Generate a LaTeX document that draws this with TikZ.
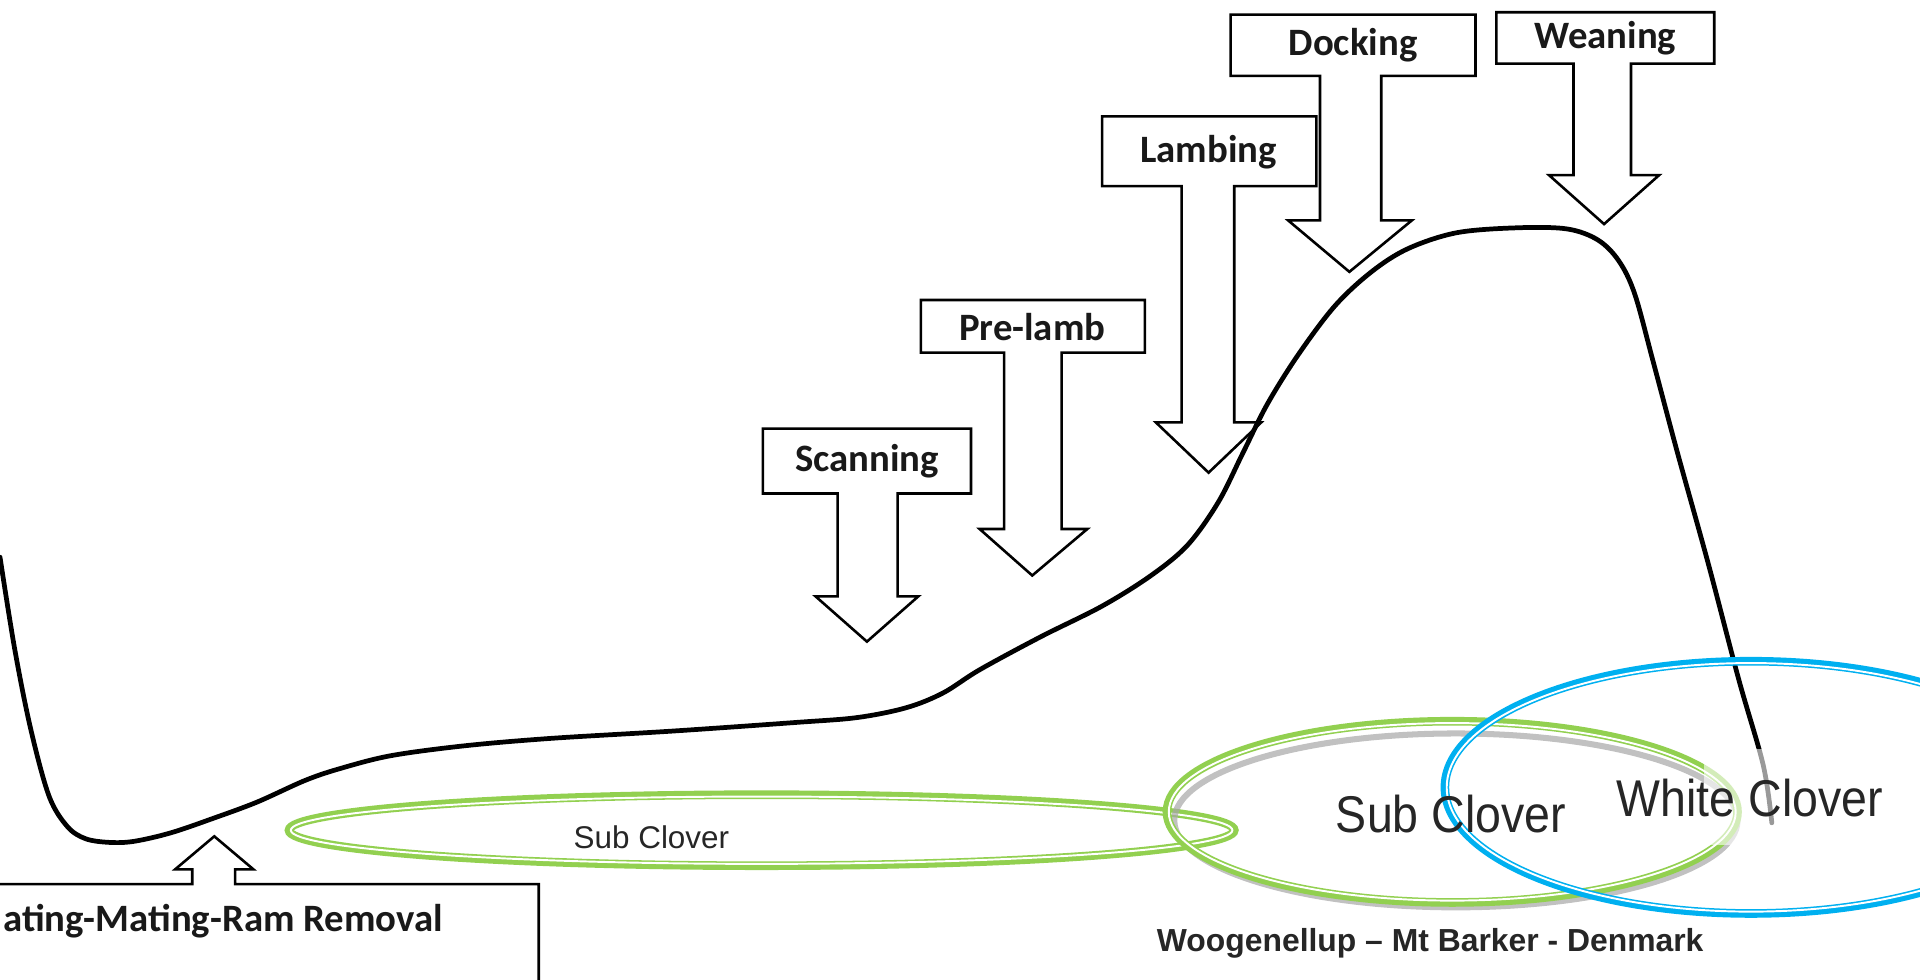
\documentclass[tikz,border=0pt]{standalone}
\usepackage{fontspec}
\setmainfont{Liberation Sans}
\newfontfamily\boxfont{Carlito}
\usetikzlibrary{calc}
\definecolor{clovergreen}{HTML}{92D050}
\definecolor{cloverblue}{HTML}{00B0F0}

\begin{document}
\begin{tikzpicture}[x=0.01cm, y=-0.01cm]
            \tikzstyle{callout} = [line width=0.6pt, line join=miter]
            \tikzstyle{stage} = [font=\boxfont\bfseries\fontsize{9}{10}\selectfont, text=black!90]
            \tikzstyle{curve} = [line width=1.1pt, line join=round, line cap=round]
            \tikzstyle{ring} = [line width=2pt]
            \tikzstyle{gap} = [white, line width=0.45pt]
            \tikzstyle{big} = [font=\fontsize{12}{14}\selectfont, text=black!85, xscale=.9, transform shape]
            \useasboundingbox (0,0) rectangle (1568,800);
            % stage call-outs
            \draw[callout] (623,350) -- (793,350) -- (793,403) -- (733,403) -- (733,487) -- (750,487)
                -- (708,524) -- (666,487) -- (684,487) -- (684,403) -- (623,403) -- cycle;
            \draw[callout] (752,245) -- (935,245) -- (935,288) -- (867,288) -- (867,432) -- (888,432)
                -- (843,470) -- (800,432) -- (820,432) -- (820,288) -- (752,288) -- cycle;
            \draw[callout] (900,95) -- (1075,95) -- (1075,152) -- (1008,152) -- (1008,345) -- (1030,345)
                -- (987,386) -- (944,345) -- (965,345) -- (965,152) -- (900,152) -- cycle;
            \draw[callout] (1005,12) -- (1205,12) -- (1205,62) -- (1128,62) -- (1128,180) -- (1153,180)
                -- (1102,222) -- (1052,180) -- (1078,180) -- (1078,62) -- (1005,62) -- cycle;
            \draw[callout] (1222,10) -- (1400,10) -- (1400,52) -- (1332,52) -- (1332,143) -- (1355,143)
                -- (1310,183) -- (1265,143) -- (1285,143) -- (1285,52) -- (1222,52) -- cycle;
            \draw[callout] (-10,722) -- (157,722) -- (157,710) -- (143,710) -- (175,683) -- (207,710)
                -- (192,710) -- (192,722) -- (440,722) -- (440,810);
            \node[stage] (scanning) at (708,377) {Scanning};
            \node[stage] (prelamb) at (843,267) {Pre-lamb};
            \node[stage] (lambing) at (987,124) {Lambing};
            \node[stage] (docking) at (1105,37) {Docking};
            \node[stage] (weaning) at (1311,31) {Weaning};
            \node[stage, anchor=west, inner sep=0pt] (joining) at (2,752) {ating-Mating-Ram Removal};
            % clover rings
            \draw[ring, clovergreen] (622,678) ellipse[x radius=386, y radius=29];
            \draw[gap] (622,678) ellipse[x radius=384.5, y radius=27.5];
            \draw[gray!70, line width=1.4pt, opacity=.7] (1189,670) ellipse[x radius=230, y radius=71];
            \draw[ring, clovergreen] (1186,663) ellipse[x radius=233, y radius=74];
            \draw[gap] (1186,663) ellipse[x radius=231.5, y radius=72.5];
            % feed demand curve
            \draw[curve] plot[smooth, tension=.55] coordinates {(0,455) (12,530) (25,595) (40,650) (55,675)
                (70,685) (90,688) (110,687) (140,680) (175,668) (210,655) (250,637) (280,627) (320,617)
                (380,609) (450,603) (550,597) (650,590) (700,586) (740,578) (770,566) (800,547) (850,520)
                (900,495) (940,470) (970,445) (995,410) (1015,370) (1035,330) (1060,290) (1090,250)
                (1120,222) (1150,203) (1190,190) (1240,186) (1280,187) (1305,196) (1322,213) (1335,240)
                (1350,295) (1370,370) (1395,460) (1420,555) (1440,625) (1447,672)};
            \fill[white, opacity=.6] (1392,612) rectangle (1462,690);
            \draw[ring, cloverblue] (1430,643) ellipse[x radius=250, y radius=103];
            \draw[gap] (1430,643) ellipse[x radius=248.5, y radius=101.5];
            % labels
            \node[font=\fontsize{7.3}{9}\selectfont, text=black!85] (subsmall) at (532,684) {Sub Clover};
            \node[big] (sub) at (1185,665) {Sub Clover};
            \node[big] (white) at (1429,652) {White Clover};
            \node[font=\bfseries\fontsize{7.4}{9}\selectfont, text=black!85] (place) at (1168,770)
                {Woogenellup – Mt Barker - Denmark};
        \end{tikzpicture}
\end{document}
